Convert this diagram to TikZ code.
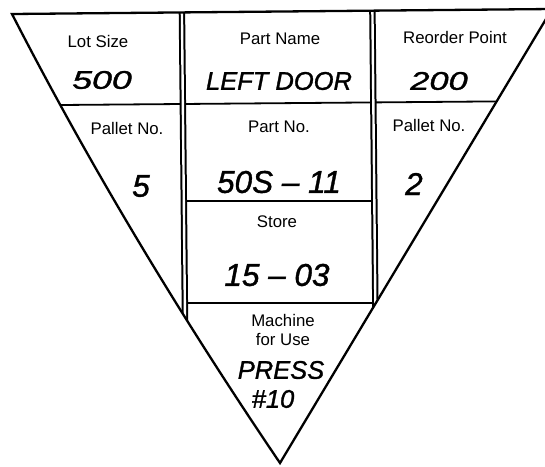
\documentclass[tikz,border=0pt]{standalone}
\usepackage{graphicx}
\usepackage{fontspec}
\setmainfont{Liberation Sans}
\newfontfamily\handfont{Liberation Sans}[ItalicFeatures={FakeBold=1.2}]
\begin{document}
\begin{tikzpicture}[x=1pt,y=-1pt,
  outline/.style={line width=2.3pt, line join=miter},
  divider/.style={line width=1.8pt},
  colrule/.style={draw=black, double=white, line width=2pt, double distance=2.4pt},
  lbl/.style={font=\fontsize{16.8}{19}\selectfont, inner sep=0pt},
  hand/.style={font=\handfont\itshape\fontsize{25.5}{30}\selectfont, inner sep=0pt},
  handbig/.style={font=\handfont\itshape\fontsize{31.5}{36}\selectfont, inner sep=0pt}]
\clip (0,0) rectangle (545,466);
\coordinate (TL) at (12,14);
\coordinate (TR) at (552,9);
\coordinate (AP) at (280,463);
\begin{scope}
  \clip (TL) -- (TR) -- (AP) .. controls (179,314) and (89,164) .. (TL) -- cycle;
  \draw[divider] (0,105.5) -- (545,101);
  \draw[divider] (184,201) -- (374,201);
  \draw[divider] (184,303) -- (376,303);
  \draw[colrule] (181.8,0) -- (185.2,340);
  \draw[colrule] (372.3,0) -- (375.7,340);
\end{scope}
\draw[outline] (TL) -- (TR) -- (AP) .. controls (179,314) and (89,164) .. cycle;

\node[lbl] (lot) at (98,41) {Lot Size};
\node[lbl] (pname) at (280,39) {Part Name};
\node[lbl] (reord) at (455,37.5) {Reorder Point};
\node[hand] (lotv) at (102,80) {\scalebox{1.4}[1]{500}};
\node[hand] (pnamev) at (279,81) {LEFT DOOR};
\node[hand] (reordv) at (439,81) {\scalebox{1.35}[1]{200}};
\node[lbl] (pal1) at (127,128) {Pallet No.};
\node[lbl] (pno) at (279,127) {Part No.};
\node[lbl] (pal2) at (429,125) {Pallet No.};
\node[handbig] (pal1v) at (141,186) {5};
\node[handbig] (pnov) at (279,182) {50S – 11};
\node[handbig] (pal2v) at (414,184) {2};
\node[lbl] (store) at (277,222) {Store};
\node[handbig] (storev) at (277,275) {15 – 03};
\node[lbl] (mach) at (283,320) {Machine};
\node[lbl] (use) at (283,339) {for Use};
\node[hand] (machv) at (281,370) {PRESS};
\node[hand] (machn) at (273,399) {\#10};
\end{tikzpicture}
\end{document}
